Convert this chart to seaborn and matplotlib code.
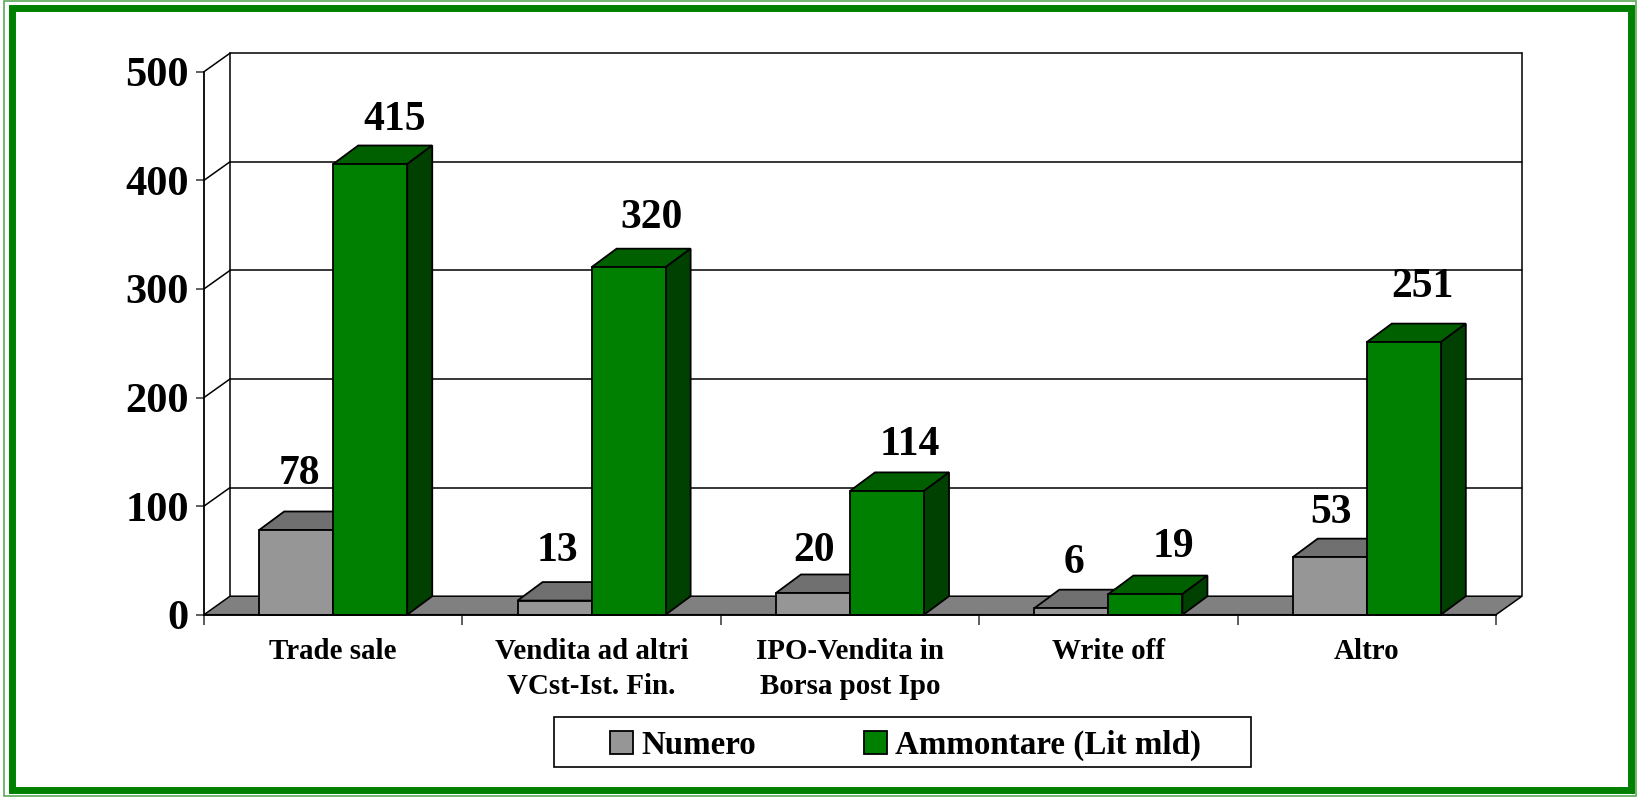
import matplotlib
matplotlib.use("Agg")
import matplotlib.pyplot as plt
from matplotlib.patches import Polygon, Rectangle
from matplotlib.lines import Line2D
import pandas as pd
import seaborn as sns

categories = ["Trade sale", "Vendita ad altri\nVCst-Ist. Fin.", "IPO-Vendita in\nBorsa post Ipo", "Write off", "Altro"]
numero = [78, 13, 20, 6, 53]
ammontare = [415, 320, 114, 19, 251]
series_names = ["Numero", "Ammontare (Lit mld)"]
y_ticks = [0, 100, 200, 300, 400, 500]

# label nudges from the value top, in pixels
numero_dx = [3, 3, 1, 3, 1]
numero_lift = [56, 50, 42, 45, 44]
ammontare_dx = [24, 23, 23, 28, 19]
ammontare_lift = [44, 49, 46, 47, 55]

W, H = 1637, 797
FRONT_L, FRONT_R, Y500, Y0 = 204.0, 1496.0, 71.7, 614.7
DEPTH_PX_X, DEPTH_PX_Y = 26.0, 18.5
BAR_DX_PX, BAR_DY_PX = 25.0, 18.5
EDGE = 1.3

GREEN, GREEN_TOP, GREEN_SIDE = "#008000", "#006000", "#004000"
GRAY, GRAY_TOP, GRAY_SIDE = "#969696", "#707070", "#4b4b4b"
FLOOR = "#808080"
FONT = "Liberation Serif"

sns.set_theme(style="white")
plt.rcParams["font.family"] = [FONT, "DejaVu Serif"]
plt.rcParams["font.weight"] = "bold"

fig = plt.figure(figsize=(W / 100, H / 100), dpi=100, facecolor="white")
ax = fig.add_axes([FRONT_L / W, 1 - Y0 / H, (FRONT_R - FRONT_L) / W, (Y0 - Y500) / H])
ax.patch.set_alpha(0)

df = pd.DataFrame({
    "categoria": categories * 2,
    "serie": [series_names[0]] * len(categories) + [series_names[1]] * len(categories),
    "valore": numero + ammontare,
})
sns.barplot(data=df, x="categoria", y="valore", hue="serie", hue_order=series_names,
            palette=[GRAY, GREEN], width=0.573, gap=0, saturation=1, dodge=True,
            edgecolor="black", linewidth=EDGE, ax=ax, zorder=5)
ax.set_xlim(-0.5, len(categories) - 0.5)
ax.set_ylim(0, 500)
ax.set_xlabel("")
ax.set_ylabel("")

ux = (FRONT_R - FRONT_L) / len(categories)
uy = (Y0 - Y500) / 500
dx, dy = DEPTH_PX_X / ux, DEPTH_PX_Y / uy
bdx, bdy = BAR_DX_PX / ux, BAR_DY_PX / uy
x0, x1 = ax.get_xlim()
LINE = dict(color="black", lw=1.1, clip_on=False)

# back walls, gridlines and floor
for v in y_ticks[1:]:
    ax.add_line(Line2D([x0 + dx, x1 + dx], [v + dy, v + dy], zorder=1, **LINE))
for v in y_ticks[1:]:
    ax.add_line(Line2D([x0, x0 + dx], [v, v + dy], zorder=1, **LINE))
ax.add_line(Line2D([x0 + dx, x0 + dx], [dy, 500 + dy], zorder=1, **LINE))
ax.add_line(Line2D([x1 + dx, x1 + dx], [dy, 500 + dy], zorder=1, **LINE))
ax.add_patch(Polygon([(x0, 0), (x0 + dx, dy), (x1 + dx, dy), (x1, 0)], closed=True,
                     facecolor=FLOOR, edgecolor="black", lw=1.1, clip_on=False, zorder=2))

# depth faces derived from the bars seaborn drew
containers = ax.containers
styles = [(GRAY_TOP, GRAY_SIDE, 3.0), (GREEN_TOP, GREEN_SIDE, 6.0)]
for idx, (cont, (top, side, z)) in enumerate(zip(containers, styles)):
    for bar in cont:
        bx, bw, bh = bar.get_x(), bar.get_width(), bar.get_height()
        ax.add_patch(Polygon([(bx, bh), (bx + bdx, bh + bdy), (bx + bw + bdx, bh + bdy), (bx + bw, bh)],
                             closed=True, facecolor=top, edgecolor="black", lw=EDGE, clip_on=False, zorder=z))
        ax.add_patch(Polygon([(bx + bw, 0), (bx + bw + bdx, bdy), (bx + bw + bdx, bh + bdy), (bx + bw, bh)],
                             closed=True, facecolor=side, edgecolor="black", lw=EDGE, clip_on=False, zorder=z))
        bar.set_zorder(z + 1)
        bar.set_clip_on(False)

# value labels
for cont, vals, ox, lift in [(containers[0], numero, numero_dx, numero_lift),
                             (containers[1], ammontare, ammontare_dx, ammontare_lift)]:
    for bar, v, ox_i, lift_i in zip(cont, vals, ox, lift):
        ax.annotate(str(v), (bar.get_x() + bar.get_width() / 2, v), xytext=(ox_i, lift_i),
                    textcoords="offset pixels", ha="center", va="center", fontsize=30,
                    fontweight="bold", color="black", annotation_clip=False, zorder=10)

# axes
sns.despine(ax=ax, top=True, right=True)
for s in ("left", "bottom"):
    ax.spines[s].set_color("black")
    ax.spines[s].set_linewidth(1.3)
    ax.spines[s].set_zorder(8)
ax.set_yticks(y_ticks)
ax.set_yticklabels([str(v) for v in y_ticks], fontsize=30.5, fontweight="bold", color="black")
ax.set_xticks([i - 0.5 for i in range(len(categories) + 1)])
ax.set_xticklabels([""] * (len(categories) + 1))
ax.tick_params(axis="y", length=6, width=1.1, color="#333333", pad=5, left=True)
ax.tick_params(axis="x", length=7, width=1.1, color="#333333", bottom=True)
for i, c in enumerate(categories):
    ax.annotate(c, (i, 0), xytext=(0, -23), textcoords="offset pixels", ha="center", va="top",
                fontsize=20.9, fontweight="bold", color="black", linespacing=1.38, annotation_clip=False)

# legend
ax.add_patch(Rectangle((554 / W, 1 - 767 / H), (1251 - 554) / W, 50 / H, transform=fig.transFigure,
                       facecolor="white", edgecolor="black", lw=1.2, clip_on=False, zorder=15))
handles, labels = ax.get_legend_handles_labels()
leg = ax.legend(handles, labels, ncol=2, frameon=False, loc="center",
                bbox_to_anchor=(((554 + 1251) / 2 + 3) / W, 1 - 745.5 / H), bbox_transform=fig.transFigure,
                fontsize=23.8, handlelength=0.70, handleheight=0.70, handletextpad=0.24,
                columnspacing=3.25, borderpad=0, labelspacing=0)
leg.set_zorder(20)
for t in leg.get_texts():
    t.set_fontweight("bold")
    t.set_color("black")

# outer frame
fig.add_artist(Rectangle((4 / W, 1 / H), (W - 5) / W, (H - 2) / H, transform=fig.transFigure,
                         facecolor="none", edgecolor="#5aa85a", lw=1.2))
fig.add_artist(Rectangle((11.5 / W, 1 - 789.5 / H), (1631 - 11.5) / W, (789.5 - 7.5) / H, transform=fig.transFigure,
                         facecolor="none", edgecolor=GREEN, lw=5))

fig.savefig("out.png", dpi=100, facecolor="white")
